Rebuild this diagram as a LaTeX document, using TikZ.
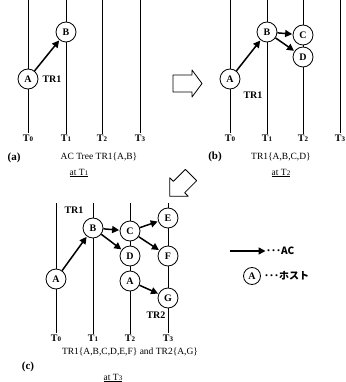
\documentclass[tikz,border=0pt]{standalone}
\usepackage{fontspec}
\setmainfont{Liberation Serif}
\newfontfamily\jpfont{Noto Sans CJK JP}
\usetikzlibrary{arrows.meta}

\tikzset{
  host/.style={circle, draw, fill=white, line width=0.8pt, minimum size=20pt, inner sep=0pt, font=\bfseries\fontsize{10}{10}\selectfont},
  ac/.style={-{Triangle[length=7pt,width=7pt]}, line width=1.5pt, shorten >=0.5pt},
  zeit/.style={line width=0.7pt},
  tlabel/.style={font=\bfseries\fontsize{10}{10}\selectfont, inner sep=1pt},
  trname/.style={font=\bfseries\fontsize{10}{10}\selectfont},
  caption/.style={font=\fontsize{9.5}{9.5}\selectfont},
  panel/.style={font=\bfseries\fontsize{11}{11}\selectfont},
  hollow/.style={draw, line width=0.8pt, fill=white, line join=round},
  legend/.style={font=\jpfont\bfseries\fontsize{10}{10}\selectfont, anchor=west, inner sep=0pt},
}
\newcommand{\tzeit}[1]{T\kern0.2pt{\fontsize{7}{7}\selectfont #1}}

\begin{document}
\begin{tikzpicture}[x=1pt,y=-1pt]
  \useasboundingbox (0,0) rectangle (345,382);

  % Zeitachsen (a)
  \foreach \x/\t in {28/0, 66/1, 102/2, 140/3} {
    \node[tlabel] (ta\t) at (\x,138) {\tzeit{\t}};
    \draw[zeit] (\x,0) -- (ta\t.north);
  }
  % Baum (a)
  \node[host] (aA) at (28,79) {A};
  \node[host] (aB) at (66,32) {B};
  \draw[ac] (aA) -- (aB);
  \node[trname, anchor=west] (aTR) at (39,79) {TR1};
  \node[panel] (apanel) at (14,158) {(a)};
  \node[caption] (acap) at (99,157) {AC Tree TR1\{A,B\}};
  \node[caption] (aat) at (79,173) {\underline{at \tzeit{1}}};

  % Zeitachsen (b)
  \foreach \x/\t in {230/0, 267/1, 303/2, 340/3} {
    \node[tlabel] (tb\t) at (\x,138) {\tzeit{\t}};
    \draw[zeit] (\x,0) -- (tb\t.north);
  }
  % Baum (b)
  \node[host] (bA) at (230,79) {A};
  \node[host] (bB) at (267,32) {B};
  \node[host] (bC) at (303,35) {C};
  \node[host] (bD) at (303,57) {D};
  \draw[ac] (bA) -- (bB);
  \draw[ac] (bB) -- (bC);
  \draw[ac] (bB) -- (bD);
  \node[trname] (bTR) at (253,95) {TR1};
  \node[panel] (bpanel) at (215,157) {(b)};
  \node[caption] (bcap) at (281,157) {TR1\{A,B,C,D\}};
  \node[caption] (bat) at (281,173) {\underline{at \tzeit{2}}};

  % Pfeile zwischen den Bildern
  \draw[hollow] (173,75) -- (192,75) -- (192,70) -- (202,83.5) -- (192,97) -- (192,92) -- (173,92) -- cycle;
  \begin{scope}[shift={(191,175)}, rotate=225]
    \draw[hollow] (0,-8) -- (17,-8) -- (17,-13) -- (30,0) -- (17,13) -- (17,8) -- (0,8) -- cycle;
  \end{scope}

  % Zeitachsen (c)
  \foreach \x/\t in {56/0, 93/1, 130/2, 168/3} {
    \node[tlabel] (tc\t) at (\x,338) {\tzeit{\t}};
    \draw[zeit] (\x,203) -- (tc\t.north);
  }
  % Baeume (c)
  \node[host] (cA) at (56,279) {A};
  \node[host] (cB) at (93,228) {B};
  \node[host] (cC) at (130,231) {C};
  \node[host] (cD) at (130,256) {D};
  \node[host] (cE) at (168,218) {E};
  \node[host] (cF) at (168,256) {F};
  \node[host] (cA2) at (130,281) {A};
  \node[host] (cG) at (168,298) {G};
  \draw[ac] (cA) -- (cB);
  \draw[ac] (cB) -- (cC);
  \draw[ac] (cB) -- (cD);
  \draw[ac] (cC) -- (cE);
  \draw[ac] (cC) -- (cF);
  \draw[ac] (cA2) -- (cG);
  \node[trname] (cTR1) at (74,210) {TR1};
  \node[trname] (cTR2) at (156,315) {TR2};
  \node[panel] (cpanel) at (28,367) {(c)};
  \node[caption] (ccap) at (130,352) {TR1\{A,B,C,D,E,F\} and TR2\{A,G\}};
  \node[caption] (cat) at (113,378) {\underline{at \tzeit{3}}};

  % Legende
  \coordinate (lstart) at (230,251);
  \node[legend] (lac) at (266,251) {･･･AC};
  \draw[ac] (lstart) -- (lac.west);
  \node[host, minimum size=17pt] (lhost) at (252,276) {A};
  \node[legend] (lhosttext) at (264,276) {･･･ホスト};
\end{tikzpicture}
\end{document}
